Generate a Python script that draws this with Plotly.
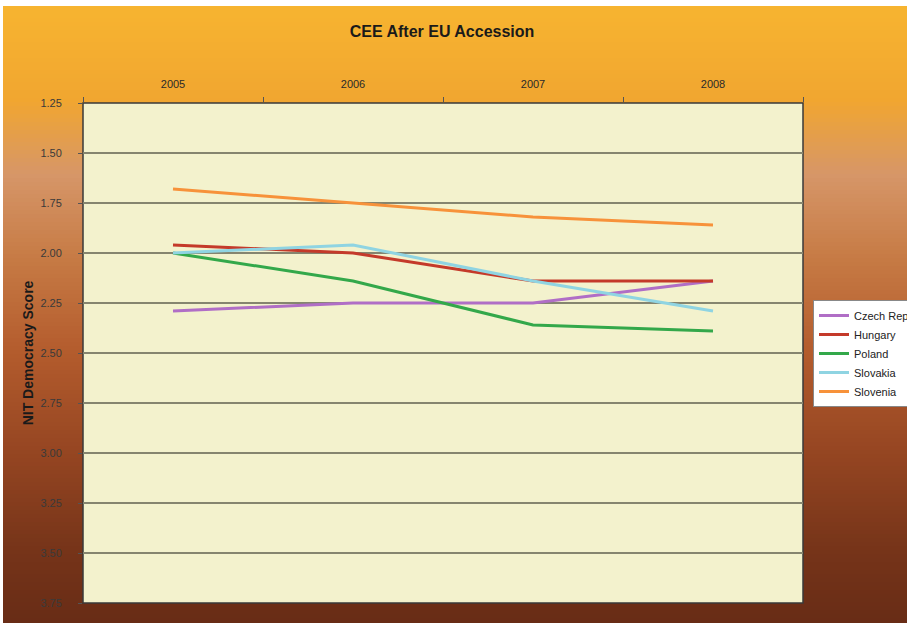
import plotly.graph_objects as go

years = ["2005", "2006", "2007", "2008"]
czech = [2.29, 2.25, 2.25, 2.14]
hungary = [1.96, 2.00, 2.14, 2.14]
poland = [2.00, 2.14, 2.36, 2.39]
slovakia = [2.00, 1.96, 2.14, 2.29]
slovenia = [1.68, 1.75, 1.82, 1.86]

series = [
    ("Czech Rep", czech, "#b06ec6"),
    ("Hungary", hungary, "#c43a2a"),
    ("Poland", poland, "#33a84a"),
    ("Slovakia", slovakia, "#8fd4e2"),
    ("Slovenia", slovenia, "#f7923a"),
]

W, H = 907, 623
ML, MT = 83, 103
MR = W - 803
MB = H - 603

fig = go.Figure()
for name, vals, col in series:
    fig.add_trace(go.Scatter(x=years, y=vals, mode="lines", name=name,
                             line=dict(color=col, width=3)))

# background gradient strips (pixel rows)
stops = [(0, (247, 181, 48)), (100, (241, 166, 48)), (175, (214, 150, 104)),
         (260, (198, 122, 68)), (350, (180, 92, 45)), (450, (150, 70, 34)),
         (550, (118, 52, 25)), (623, (104, 44, 22))]

def color_at(py):
    for (a, ca), (b, cb) in zip(stops[:-1], stops[1:]):
        if a <= py <= b:
            t = (py - a) / (b - a)
            return tuple(int(round(ca[i] + (cb[i] - ca[i]) * t)) for i in range(3))
    return stops[-1][1]

pw = W - ML - MR
ph = H - MT - MB
def px2x(px):
    return (px - ML) / pw
def py2y(py):
    return (H - MB - py) / ph

shapes = []
step = 4
y0 = 6
while y0 < H:
    y1 = min(y0 + step, H)
    c = color_at((y0 + y1) / 2)
    shapes.append(dict(type="rect", xref="paper", yref="paper",
                       x0=px2x(3), x1=px2x(W + 1), y0=py2y(y1 + 0.5), y1=py2y(y0),
                       fillcolor="rgb(%d,%d,%d)" % c, line=dict(width=0),
                       layer="below"))
    y0 = y1
# plot area fill
shapes.append(dict(type="rect", xref="paper", yref="paper", x0=0, x1=1, y0=0, y1=1,
                   fillcolor="#f3f2cd", line=dict(color="#3a3a3a", width=1.5),
                   layer="below"))

fig.update_layout(
    width=W, height=H,
    margin=dict(l=ML, r=MR, t=MT, b=MB, autoexpand=False),
    paper_bgcolor="white",
    plot_bgcolor="#f3f2cd",
    shapes=shapes,
    title=dict(text="<b>CEE After EU Accession</b>", x=442 / W,
               xanchor="center", y=1 - 31 / H, yanchor="middle",
               font=dict(family="Arial", size=16, color="#1a1a1a")),
    font=dict(family="Arial", color="#222"),
    xaxis=dict(side="top", type="category", range=[-0.5, 3.5],
               tickson="boundaries", ticks="outside", ticklen=5,
               tickcolor="#555", showgrid=False, showline=False,
               ticklabelstandoff=12,
               tickfont=dict(size=11, color="#2a2a2a")),
    yaxis=dict(range=[3.75, 1.25], dtick=0.25, tick0=1.25, tickformat=".2f",
               ticks="outside", ticklen=4, tickcolor="#555",
               showgrid=True, gridcolor="#85856f", gridwidth=1.5,
               zeroline=False, showline=False, ticklabelstandoff=14,
               tickfont=dict(size=11, color="#3a3a3a"),
               title=dict(text="<b>NIT Democracy Score</b>", standoff=3,
                          font=dict(size=14, color="#1a1a1a"))),
    legend=dict(x=px2x(813), xanchor="left", y=py2y(300), yanchor="top",
                bgcolor="white", bordercolor="#888", borderwidth=1,
                font=dict(size=11, color="#222"), tracegroupgap=0),
    showlegend=True,
)

fig.write_html("out.html", config={"displayModeBar": False},
               post_script="document.body.style.margin='0';document.body.style.overflow='hidden';")
